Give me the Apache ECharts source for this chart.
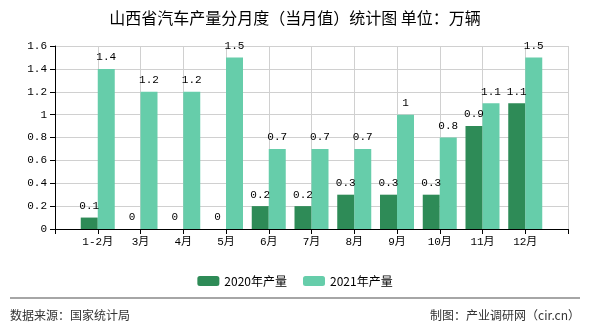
<!DOCTYPE html>
<html>
<head>
<meta charset="utf-8">
<script src="https://cdn.jsdelivr.net/npm/echarts@6/dist/echarts.min.js"></script>
<style>
html,body{margin:0;padding:0;background:#fff;}
#c{width:590px;height:330px;}
</style>
</head>
<body>
<div id="c"></div>
<script>
var categories = ['1-2月','3月','4月','5月','6月','7月','8月','9月','10月','11月','12月'];
var values2020 = [0.1, 0, 0, 0, 0.2, 0.2, 0.3, 0.3, 0.3, 0.9, 1.1];
var values2021 = [1.4, 1.2, 1.2, 1.5, 0.7, 0.7, 0.7, 1, 0.8, 1.1, 1.5];
var yTicks = ['0','0.2','0.4','0.6','0.8','1','1.2','1.4','1.6'];
var seriesNames = ['2020年产量','2021年产量'];
var titleText = '山西省汽车产量分月度（当月值）统计图 单位：万辆';

var axisCats = [''].concat(categories).concat(['']);
function pad(arr){ return ['-'].concat(arr).concat(['-']); }

var monoFont = '"Liberation Mono", "DejaVu Sans Mono", "Noto Sans CJK SC", monospace';
var cjkFont = '"Noto Sans CJK SC", "Noto Sans", sans-serif';

var chart = echarts.init(document.getElementById('c'), null, {renderer:'canvas'});
var labelStyle = {show:true, position:'top', color:'#000', fontSize:11, fontFamily:monoFont, distance:6,
  formatter:function(p){ return String(p.value); }};
chart.setOption({
  animation:false,
  backgroundColor:'#fff',
  title:{text:titleText, left:'center', top:5,
    textStyle:{fontSize:16, fontWeight:'normal', color:'#000', fontFamily:cjkFont}},
  legend:{data:seriesNames, left:'center', top:270, itemWidth:22, itemHeight:10, itemGap:16,
    textStyle:{fontSize:12, color:'#000', fontFamily:cjkFont}},
  grid:{left:55, right:22, top:46, bottom:101},
  xAxis:{type:'category', data:axisCats, boundaryGap:false,
    axisLine:{lineStyle:{color:'#000', width:1}},
    axisTick:{show:true, interval:0, length:5, lineStyle:{color:'#000'}},
    axisLabel:{interval:0, color:'#000', fontSize:11, fontFamily:monoFont, margin:8},
    splitLine:{show:true, interval:0, lineStyle:{color:'#d0d0d0'}}},
  yAxis:{type:'value', min:0, max:1.6, interval:0.2,
    axisLine:{show:true, lineStyle:{color:'#000'}},
    axisTick:{show:true, length:5, lineStyle:{color:'#000'}},
    axisLabel:{color:'#000', fontSize:11, fontFamily:monoFont, margin:8,
      formatter:function(v){ var i=Math.round(v/0.2); return yTicks[i]!==undefined?yTicks[i]:v; }},
    splitLine:{show:true, lineStyle:{color:'#d0d0d0'}}},
  series:[
    {name:seriesNames[0], type:'bar', data:pad(values2020), barWidth:17, barGap:'0%',
      itemStyle:{color:'#2e8b57'}, label:labelStyle},
    {name:seriesNames[1], type:'bar', data:pad(values2021), barWidth:17, barGap:'0%',
      itemStyle:{color:'#66cdaa'}, label:labelStyle}
  ],
  graphic:[
    {type:'line', shape:{x1:10, y1:298, x2:580, y2:298}, style:{stroke:'#888', lineWidth:1.5}},
    {type:'text', left:10, top:309, style:{text:'数据来源：国家统计局', fontSize:12, fill:'#333', fontFamily:cjkFont}},
    {type:'text', right:10, top:309, style:{text:'制图：产业调研网（cir.cn）', fontSize:12, fill:'#333', fontFamily:cjkFont}}
  ]
});
</script>
</body>
</html>
